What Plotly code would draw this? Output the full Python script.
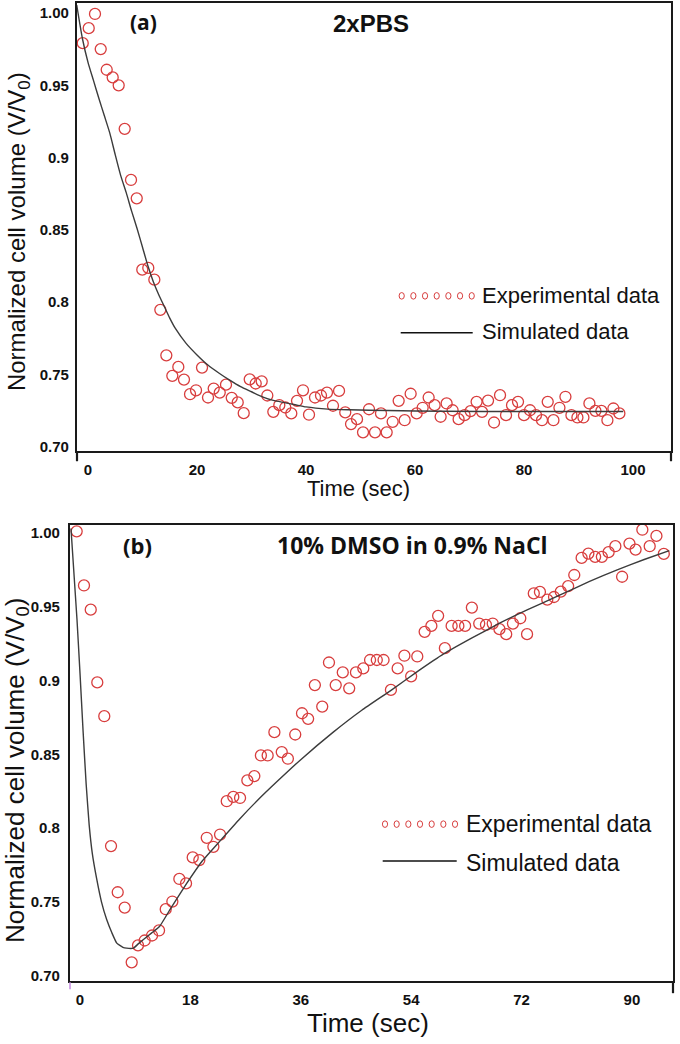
import plotly.graph_objects as go

W, H = 680, 1044

# ---------------- Panel (a): 2xPBS ----------------
time_a = [-0.97, 0.13, 1.28, 2.33, 3.43, 4.53, 5.63, 6.73, 7.89, 8.94,
          9.96, 11.06, 12.17, 13.27, 14.37, 15.47, 16.57, 17.61, 18.72, 19.82,
          20.92, 22.02, 23.06, 24.17, 25.32, 26.37, 27.47, 28.57, 29.67, 30.77,
          31.87, 32.9, 34.0, 35.1, 36.2, 37.3, 38.35, 39.45, 40.55, 41.65,
          42.75, 43.85, 44.95, 46.06, 47.2, 48.26, 49.36, 50.46, 51.56, 52.66,
          53.76, 54.8, 55.9, 57.0, 58.1, 59.2, 60.3, 61.4, 62.5, 63.6,
          64.7, 65.8, 66.9, 68.0, 69.1, 70.2, 71.3, 72.3, 73.4, 74.5,
          75.6, 76.7, 77.8, 78.9, 80.0, 81.1, 82.2, 83.3, 84.35, 85.4,
          86.5, 87.6, 88.7, 89.8, 90.9, 92.0, 93.1, 94.2, 95.3, 96.4, 97.5]
vol_a = [0.9793, 0.9897, 0.9995, 0.9752, 0.9609, 0.9556, 0.9501, 0.9200, 0.8846, 0.8719,
         0.8225, 0.8237, 0.8156, 0.7947, 0.7632, 0.7490, 0.7552, 0.7464, 0.7363, 0.7390,
         0.7547, 0.7340, 0.7402, 0.7374, 0.7429, 0.7338, 0.7306, 0.7232, 0.7466, 0.7437,
         0.7452, 0.7354, 0.7241, 0.7287, 0.7271, 0.7230, 0.7317, 0.7390, 0.7221, 0.7340,
         0.7354, 0.7374, 0.7283, 0.7386, 0.7237, 0.7156, 0.7190, 0.7099, 0.7259, 0.7099,
         0.7230, 0.7099, 0.7172, 0.7317, 0.7183, 0.7366, 0.7230, 0.7269, 0.7340, 0.7287,
         0.7207, 0.7299, 0.7252, 0.7190, 0.7218, 0.7246, 0.7310, 0.7241, 0.7319, 0.7167,
         0.7356, 0.7218, 0.7287, 0.7310, 0.7218, 0.7252, 0.7218, 0.7183, 0.7310, 0.7183,
         0.7269, 0.7345, 0.7218, 0.7202, 0.7202, 0.7299, 0.7248, 0.7248, 0.7183, 0.7264, 0.7230]

sim_time_a = [-2.07, -1.0, 0, 1, 2, 3, 4, 5, 6, 7, 8, 9, 10, 11, 12, 13, 14, 15, 16,
              18, 20, 22, 24, 26, 28, 30, 32, 34, 36, 38, 40, 44, 48, 55, 65, 80, 98.2]
sim_vol_a = [1.0057, 0.982, 0.966, 0.9535, 0.941, 0.929, 0.917, 0.902, 0.8876, 0.876,
             0.863, 0.851, 0.838, 0.825, 0.814, 0.805, 0.797, 0.789, 0.782,
             0.7715, 0.7635, 0.7565, 0.751, 0.746, 0.7415, 0.738, 0.7345, 0.732, 0.7305,
             0.729, 0.7275, 0.726, 0.7255, 0.725, 0.7245, 0.7243, 0.7243]

# ---------------- Panel (b): 10% DMSO in 0.9% NaCl ----------------
time_b = [-0.54, 0.65, 1.75, 2.82, 3.96, 5.06, 6.15, 7.29, 8.43, 9.46,
          10.55, 11.75, 12.89, 13.98, 15.06, 16.2, 17.29, 18.38, 19.46, 20.67,
          21.75, 22.84, 23.93, 25.0, 26.1, 27.29, 28.43, 29.5, 30.6, 31.7,
          32.9, 33.9, 35.1, 36.2, 37.2, 38.3, 39.5, 40.6, 41.7, 42.85,
          43.9, 45.0, 46.2, 47.3, 48.4, 49.5, 50.7, 51.8, 52.9, 54.0,
          55.0, 56.2, 57.3, 58.4, 59.5, 60.6, 61.7, 62.8, 63.9, 65.1,
          66.2, 67.3, 68.4, 69.5, 70.6, 71.8, 72.9, 74.0, 75.0, 76.2,
          77.3, 78.4, 79.6, 80.6, 81.8, 82.9, 84.0, 85.1, 86.2, 87.3,
          88.4, 89.6, 90.6, 91.7, 92.9, 94.0, 95.2]
vol_b = [1.0011, 0.9644, 0.9480, 0.8987, 0.8758, 0.7878, 0.7565, 0.7461, 0.7090, 0.7205,
         0.7238, 0.7272, 0.7306, 0.7450, 0.7502, 0.7655, 0.7625, 0.7801, 0.7783, 0.7934,
         0.7873, 0.7956, 0.8182, 0.8211, 0.8204, 0.8323, 0.8352, 0.8492, 0.8492, 0.8650,
         0.8515, 0.8470, 0.8634, 0.8778, 0.8740, 0.8969, 0.8823, 0.9122, 0.8969, 0.9055,
         0.8947, 0.9055, 0.9082, 0.9139, 0.9139, 0.9139, 0.8936, 0.9082, 0.9168, 0.9028,
         0.9163, 0.9330, 0.9370, 0.9438, 0.9219, 0.9370, 0.9370, 0.9370, 0.9494, 0.9386,
         0.9377, 0.9386, 0.9348, 0.9314, 0.9386, 0.9422, 0.9314, 0.9590, 0.9600, 0.9548,
         0.9566, 0.9602, 0.9640, 0.9715, 0.9831, 0.9860, 0.9838, 0.9838, 0.9870, 0.9910,
         0.9703, 0.9928, 0.9887, 1.0022, 0.9910, 0.9980, 0.9858]

sim_time_b = [-1.47, -0.5, 0.0, 0.5, 1.0, 1.5, 2.0, 2.7, 3.5, 4.35, 5.2, 6.0, 7.0, 7.6,
              8.7, 9.5, 10.3, 11.7, 13.0, 15.0, 17.4, 20.0, 23.0, 26.0, 29.0, 32.0,
              35.9, 41.3, 46.0, 50.6, 55.0, 59.3, 64.0, 68.5, 73.0, 78.3, 83.0, 87.6,
              92.0, 96.1]
sim_vol_b = [1.003, 0.942, 0.905, 0.866, 0.830, 0.802, 0.783, 0.766, 0.750, 0.738,
             0.729, 0.722, 0.7192, 0.7186, 0.7186, 0.7215, 0.7243, 0.729, 0.7335, 0.747,
             0.7625, 0.778, 0.792, 0.806, 0.819, 0.831, 0.846, 0.865, 0.880, 0.893,
             0.906, 0.918, 0.929, 0.939, 0.948, 0.958, 0.967, 0.975, 0.982, 0.988]

ytick_vals = [0.70, 0.75, 0.80, 0.85, 0.90, 0.95, 1.00]
ytick_text = ["0.70", "0.75", "0.8", "0.85", "0.9", "0.95", "1.00"]
xtick_a = [0, 20, 40, 60, 80, 100]
xtick_b = [0, 18, 36, 54, 72, 90]

legend_labels = ["Experimental data", "Simulated data"]

RED = "rgb(216,62,62)"
CURVE = "#3c3c3c"
AX = "#1a1a1a"


def fx(p):
    return p / W


def fy(p):
    return 1 - p / H


fig = go.Figure()

fig.add_trace(go.Scatter(x=time_a, y=vol_a, mode="markers", xaxis="x", yaxis="y",
                         marker=dict(symbol="circle-open", size=11, color=RED,
                                     line=dict(width=1.3, color=RED)),
                         showlegend=False))
fig.add_trace(go.Scatter(x=sim_time_a, y=sim_vol_a, mode="lines", xaxis="x", yaxis="y",
                         line=dict(color=CURVE, width=1.4, shape="spline", smoothing=0.6),
                         showlegend=False))
fig.add_trace(go.Scatter(x=time_b, y=vol_b, mode="markers", xaxis="x2", yaxis="y2",
                         marker=dict(symbol="circle-open", size=11, color=RED,
                                     line=dict(width=1.3, color=RED)),
                         showlegend=False))
fig.add_trace(go.Scatter(x=sim_time_b, y=sim_vol_b, mode="lines", xaxis="x2", yaxis="y2",
                         line=dict(color=CURVE, width=1.4, shape="spline", smoothing=0.4),
                         showlegend=False))

tickfont_a = dict(family="Liberation Sans, Arial", size=15, color="#111", weight="bold")
tickfont_b = dict(family="Liberation Sans, Arial", size=15, color="#111", weight="bold")

common = dict(showgrid=False, zeroline=False, showline=True, mirror=True,
              linecolor=AX, linewidth=2.2, ticks="")

fig.update_layout(
    width=W, height=H,
    margin=dict(l=0, r=0, t=0, b=0),
    paper_bgcolor="white", plot_bgcolor="white",
    showlegend=False,
    xaxis=dict(domain=[fx(77), fx(671)], range=[-2.02, 106.97], anchor="y",
               tickvals=xtick_a, ticktext=[str(v) for v in xtick_a],
               tickfont=tickfont_a, ticklabelstandoff=4, **common),
    yaxis=dict(domain=[fy(453), fy(3)], range=[0.6968, 1.0071], anchor="x",
               tickvals=ytick_vals, ticktext=ytick_text,
               tickfont=tickfont_a, ticklabelstandoff=3, **common),
    xaxis2=dict(domain=[fx(70), fx(673)], range=[-1.63, 96.7], anchor="y2",
                tickvals=xtick_b, ticktext=[str(v) for v in xtick_b],
                tickfont=tickfont_b, ticklabelstandoff=4, **common),
    yaxis2=dict(domain=[fy(985), fy(526.7)], range=[0.6962, 1.0056], anchor="x2",
                tickvals=ytick_vals, ticktext=ytick_text,
                tickfont=tickfont_b, ticklabelstandoff=5, **common),
)

ann = []


def add_text(text, x, y, size, family="Liberation Sans, Arial", weight="normal",
             xanchor="center", angle=0):
    ann.append(dict(text=text, x=fx(x), y=fy(y), xref="paper", yref="paper",
                    xanchor=xanchor, yanchor="middle", showarrow=False, textangle=angle,
                    font=dict(family=family, size=size, color="#111", weight=weight)))


# Panel (a) texts
add_text("(a)", 143, 22.5, 21, family="Open Sans", weight="bold")
add_text("2xPBS", 371, 23.5, 24, weight="bold")
add_text("Normalized cell volume (V/V<sub>0</sub>)", 18, 233, 24, angle=-90)
add_text("Time (sec)", 358, 490, 22)
add_text(legend_labels[0], 480, 297, 22, xanchor="left")
add_text(legend_labels[1], 480, 333, 22, xanchor="left")

# Panel (b) texts
add_text("(b)", 137.5, 547, 22, family="Open Sans", weight="bold")
add_text("10% DMSO in 0.9% NaCl", 412.5, 547, 23, family="Open Sans", weight="bold")
add_text("Normalized cell volume (V/V<sub>0</sub>)", 16, 774, 26, angle=-90)
add_text("Time (sec)", 367.5, 1027, 26)
add_text(legend_labels[0], 464, 827, 23, xanchor="left")
add_text(legend_labels[1], 464, 866, 23, xanchor="left")

fig.update_layout(annotations=ann)

shapes = []
# legend glyphs: rows of small open circles and a line segment
for i in range(7):
    cx = 401.7 + i * 11.67
    shapes.append(dict(type="circle", xref="paper", yref="paper",
                       x0=fx(cx - 2.6), x1=fx(cx + 2.6), y0=fy(297 + 3.3), y1=fy(297 - 3.3),
                       line=dict(color=RED, width=1)))
shapes.append(dict(type="line", xref="paper", yref="paper",
                   x0=fx(400.7), x1=fx(472.7), y0=fy(334), y1=fy(334),
                   line=dict(color="#111", width=1.6)))
for i in range(7):
    cx = 385 + i * 11.67
    shapes.append(dict(type="circle", xref="paper", yref="paper",
                       x0=fx(cx - 2.6), x1=fx(cx + 2.6), y0=fy(827.3 + 3.3), y1=fy(827.3 - 3.3),
                       line=dict(color=RED, width=1)))
shapes.append(dict(type="line", xref="paper", yref="paper",
                   x0=fx(382.7), x1=fx(456.7), y0=fy(864.3), y1=fy(864.3),
                   line=dict(color="#111", width=1.6)))
# frame line overhangs below the x axes
for xx in (77, 671):
    shapes.append(dict(type="line", xref="paper", yref="paper",
                       x0=fx(xx), x1=fx(xx), y0=fy(453), y1=fy(463),
                       line=dict(color=AX, width=2.2)))
shapes.append(dict(type="line", xref="paper", yref="paper",
                   x0=fx(673), x1=fx(673), y0=fy(985), y1=fy(997),
                   line=dict(color=AX, width=2.2)))
shapes.append(dict(type="line", xref="paper", yref="paper",
                   x0=fx(70), x1=fx(70), y0=fy(986), y1=fy(993),
                   line=dict(color="#c58be0", width=1.5)))
fig.update_layout(shapes=shapes)

fig.write_html("out.html",
               config={"displayModeBar": False},
               post_script="document.body.style.margin='0';document.body.style.overflow='hidden';")
